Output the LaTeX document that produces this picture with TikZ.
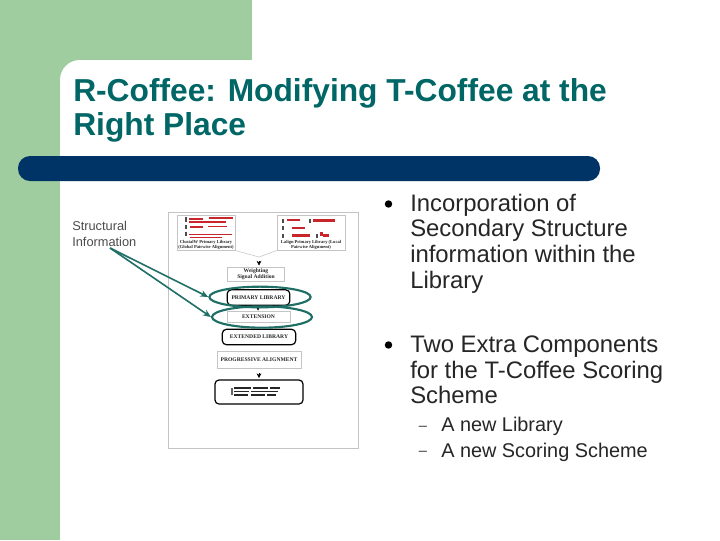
\documentclass[tikz,border=0pt]{standalone}
\usepackage{fontspec}
\setmainfont{Liberation Sans}
\newfontfamily\figserif{Liberation Serif}
\usetikzlibrary{shapes.geometric,arrows.meta}
\definecolor{slidegreen}{HTML}{A0CD9F}
\definecolor{barblue}{HTML}{003366}
\definecolor{titleteal}{HTML}{006666}
\definecolor{arrowteal}{HTML}{1F6F66}
\definecolor{framegrey}{HTML}{C4C4C4}
\definecolor{barred}{HTML}{C8262B}
\tikzset{
  x=0.75pt,y=-0.75pt,
  titletext/.style={anchor=north west,inner sep=0pt,align=left,text=titleteal,font=\fontsize{23.8}{25.7}\selectfont\bfseries},
  bodytext/.style={anchor=north west,inner sep=0pt,align=left,text=black!85,font=\fontsize{17.9}{19.3}\selectfont},
  subtext/.style={anchor=north west,inner sep=0pt,align=left,text=black!85,font=\fontsize{14.9}{19.5}\selectfont},
  bulletdot/.style={circle,fill=black,inner sep=0pt,minimum size=5.6pt},
  dashmark/.style={anchor=center,inner sep=0pt,text=black!75,font=\fontsize{11}{11}\selectfont},
  sqbox/.style={draw=framegrey,line width=0.5pt,fill=white,inner sep=0pt,align=center,text=black!85,font=\figserif\bfseries\fontsize{4.2}{5}\selectfont},
  rdbox/.style={draw=black,line width=0.9pt,rounded corners=3pt,fill=white,inner sep=0pt,align=center,text=black!85,font=\figserif\bfseries\fontsize{4.2}{5}\selectfont},
  loop/.style={ellipse,draw=arrowteal,line width=1.6pt,inner sep=0pt},
  pointer/.style={draw=arrowteal,line width=1.2pt,-{Stealth[length=6pt,width=5pt]}},
  flowtip/.style={draw=black,line width=0.4pt,-{Stealth[length=3.5pt,width=3.5pt]}},
  redbar/.style={draw=none,fill=barred},
  darkbar/.style={draw=none,fill=black!85}
}
\begin{document}
\begin{tikzpicture}
\useasboundingbox (0,0) rectangle (720,540);
\fill[white] (0,0) rectangle (720,540);
% slide background
\fill[slidegreen] (0,0) rectangle (252,60);
\fill[slidegreen] (0,0) rectangle (60,540);
\fill[slidegreen] (60,60) rectangle (80,80);
\fill[white] (80,60) arc[start angle=90,end angle=180,radius=15pt] -- (60,80) -- (80,80) -- cycle;
\fill[barblue,rounded corners=9pt] (18,156) rectangle (600,181);
% title
\node[titletext] (title) at (73,78) {R-Coffee: Modifying T-Coffee at the\\Right Place};
% figure frame
\node[draw=framegrey,line width=0.7pt,fill=white,minimum width=142.5pt,minimum height=177pt,inner sep=0pt] (frame) at (263,330) {};
% top library boxes
\node[sqbox,minimum width=43.5pt,minimum height=26.5pt] (libA) at (206,232.5) {};
\node[sqbox,minimum width=51pt,minimum height=26.5pt] (libB) at (311,232.5) {};
\node[inner sep=0pt,align=center,text=black!85,font=\figserif\bfseries\fontsize{3.4}{4}\selectfont] (capA) at (206,245) {ClustalW Primary Library\\(Global Pairwise Alignment)};
\node[inner sep=0pt,align=center,text=black!85,font=\figserif\bfseries\fontsize{3.4}{4}\selectfont] (capB) at (311,245) {Lalign Primary Library (Local\\Pairwise Alignment)};
% red sequence bars
\fill[redbar] (189,217.5) rectangle (203,219.5);\fill[redbar] (209,216.5) rectangle (233,219);
\fill[redbar] (189,221) rectangle (226,222.5);\fill[redbar] (190,226) rectangle (203,227.5);\fill[redbar] (208,225.5) rectangle (227,227);
\fill[redbar] (189,233.5) rectangle (232,235);\fill[redbar] (190,237) rectangle (222,238);
\fill[redbar] (287,219) rectangle (300,221);\fill[redbar] (313,219) rectangle (335,221.5);
\fill[redbar] (292,226.5) rectangle (305,229);\fill[redbar] (292,234) rectangle (310,236.5);
\fill[redbar] (323,234) rectangle (329,237);\fill[redbar] (320,232) rectangle (323,236);
\fill[black!70] (185,217) rectangle (186.5,222);\fill[black!70] (185,225) rectangle (186.5,229);\fill[black!70] (185,232) rectangle (186.5,236);
\fill[black!70] (282,219) rectangle (283.5,223);\fill[black!70] (282,226) rectangle (283.5,230);\fill[black!70] (282,234) rectangle (283.5,238);
\fill[black!70] (309,219) rectangle (310.5,223);\fill[black!70] (316,234) rectangle (317.5,238);
% flow nodes
\node[sqbox,minimum width=43pt,minimum height=10.5pt] (weight) at (256,274) {Weighting\\Signal Addition};
\node[rdbox,minimum width=47pt,minimum height=11.5pt] (prim) at (258.5,297.5) {PRIMARY LIBRARY};
\node[sqbox,minimum width=47pt,minimum height=8.5pt] (ext) at (258.5,316.5) {EXTENSION};
\node[rdbox,minimum width=55pt,minimum height=11.5pt] (extlib) at (259,337) {EXTENDED LIBRARY};
\node[sqbox,minimum width=63pt,minimum height=12.5pt] (prog) at (259,359.5) {PROGRESSIVE ALIGNMENT};
\node[rdbox,minimum width=66pt,minimum height=18pt] (final) at (259,392) {};
\fill[darkbar] (234,387) rectangle (251,388.5);\fill[darkbar] (253,387) rectangle (268,388.5);\fill[darkbar] (270,387) rectangle (280,388.5);
\fill[darkbar] (234,390.5) rectangle (249,392);\fill[darkbar] (251,390.5) rectangle (278,392);
\fill[darkbar] (234,394) rectangle (248,395.5);\fill[darkbar] (251,394) rectangle (265,395.5);\fill[darkbar] (267,394) rectangle (276,395.5);
\fill[black!60] (231,388) rectangle (232.5,395);
% flow arrows
\coordinate (mergeA) at (259,257);
\draw[draw=framegrey,line width=0.4pt] (libA.south east) -- (mergeA) -- (libB.south west);
\coordinate (tipA) at (259,261); \coordinate (tipB) at (259,265.5);
\coordinate (tipC) at (258,305.5); \coordinate (tipD) at (258,310.5);
\coordinate (tipE) at (259,373); \coordinate (tipF) at (259,378);
\draw[flowtip] (tipA) -- (tipB);
\draw[flowtip] (tipC) -- (tipD);
\draw[flowtip] (tipE) -- (tipF);
% highlight
\node[loop,minimum width=76pt,minimum height=15.5pt] (e1) at (260,297) {};
\node[loop,minimum width=75pt,minimum height=16pt] (e2) at (262,317) {};
% structural label
\node[anchor=north west,inner sep=0pt,align=left,text=black!70,font=\fontsize{9.6}{12}\selectfont] (info) at (72,221) {Structural\\Information};
\coordinate (infoTail) at (110,248);
\draw[pointer] (infoTail) -- (e1.west);
\draw[pointer] (infoTail) -- (e2.west);
% bullets
\node[bulletdot] (b1) at (388.5,204) {};
\node[bulletdot] (b2) at (388.5,345) {};
\node[bodytext] (t1) at (410,193.5) {Incorporation of\\Secondary Structure\\information within the\\Library};
\node[bodytext] (t2) at (410,335.5) {Two Extra Components\\for the T-Coffee Scoring\\Scheme};
\node[dashmark] (d1) at (423,428) {–};
\node[dashmark] (d2) at (423,453) {–};
\node[subtext] (s1) at (441,417) {A new Library\\A new Scoring Scheme};
\end{tikzpicture}
\end{document}
